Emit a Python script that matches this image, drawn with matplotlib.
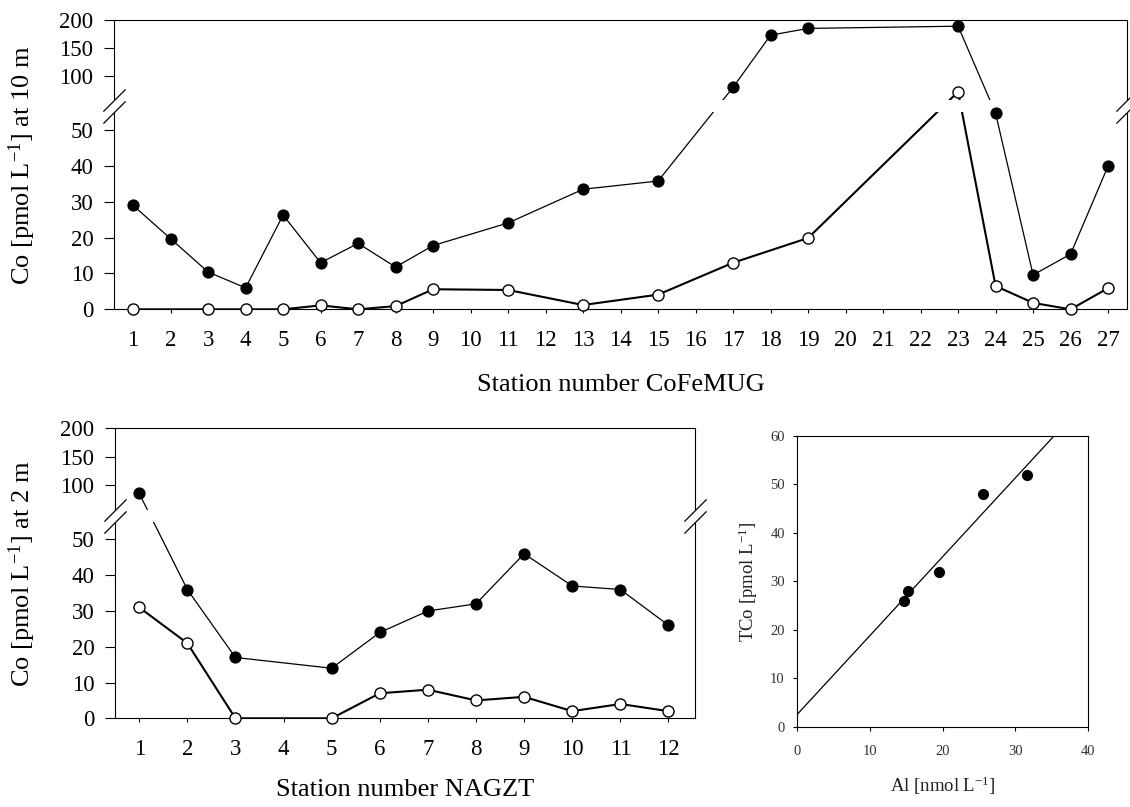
import numpy as np
import matplotlib
matplotlib.use("Agg")
import matplotlib.pyplot as plt

plt.rcParams['font.family'] = ['Liberation Serif', 'DejaVu Serif']
plt.rcParams['mathtext.fontset'] = 'custom'
plt.rcParams['mathtext.rm'] = 'Liberation Serif'
plt.rcParams['mathtext.it'] = 'Liberation Serif:italic'
plt.rcParams['mathtext.default'] = 'regular'

# ---------------- data ----------------
# Top panel: CoFeMUG stations, 10 m
cofemug_ticks = list(range(1, 28))
cofemug_black_st = [1, 2, 3, 4, 5, 6, 7, 8, 9, 11, 13, 15, 17, 18, 19, 23, 24, 25, 26, 27]
cofemug_black = [29, 19.7, 10.4, 6, 26.3, 13, 18.4, 11.8, 17.8, 24.1, 33.5, 35.8,
                 80, 173, 185, 189, 54.7, 9.6, 15.4, 40]
cofemug_open_st = [1, 3, 4, 5, 6, 7, 8, 9, 11, 13, 15, 17, 19, 23, 24, 25, 26, 27]
cofemug_open = [0, 0, 0, 0, 1.1, 0, 0.9, 5.6, 5.4, 1.2, 4.1, 13, 19.9, 72, 6.5, 1.8, 0, 5.9]

# Bottom-left panel: NAGZT stations, 2 m
nagzt_ticks = list(range(1, 13))
nagzt_st = [1, 2, 3, 5, 6, 7, 8, 9, 10, 11, 12]
nagzt_black = [85, 36, 17, 14, 24, 30, 32, 46, 37, 36, 26]
nagzt_open = [31, 21, 0, 0, 7, 8, 5, 6, 2, 4, 2]

# Bottom-right panel: TCo vs Al
al_vals = [14.7, 15.2, 19.5, 25.5, 31.6]
tco_vals = [26, 28, 32, 48, 52]

yticks_broken = [0, 10, 20, 30, 40, 50, 100, 150, 200]


def make_break(L, U, a, g, b):
    def fwd(v):
        v = np.asarray(v, dtype=float)
        return np.where(v <= L, a * v,
                        np.where(v < U, a * L + g * (v - L) / (U - L),
                                 a * L + g + b * (v - U)))

    def inv(s):
        s = np.asarray(s, dtype=float)
        s1 = a * L
        s2 = a * L + g
        return np.where(s <= s1, s / a,
                        np.where(s < s2, L + (s - s1) / g * (U - L),
                                 U + (s - s2) / b))
    return fwd, inv


def broken_panel(ax, L, U, a, g, b, st_b, vb, st_o, vo, ticks, xlim,
                 xlabel, ylabel, ylab_x, xlab_y):
    fwd, inv = make_break(L, U, a, g, b)
    ax.set_yscale('function', functions=(fwd, inv))
    ax.set_ylim(0, 200)
    ax.set_xlim(*xlim)
    ax.set_yticks(yticks_broken)
    ax.set_yticklabels([str(t) for t in yticks_broken])
    ax.set_xticks(ticks)
    ax.set_xticklabels([str(t) for t in ticks])
    ax.minorticks_off()
    ax.tick_params(axis='y', direction='out', length=7, width=0.8, pad=8,
                   labelsize=16.5)
    ax.tick_params(axis='x', direction='out', length=3, width=0.8, pad=12,
                   labelsize=16.5)
    for sp in ax.spines.values():
        sp.set_linewidth(0.8)
    # lines
    ax.plot(st_b, vb, '-', color='k', lw=0.9, zorder=2)
    ax.plot(st_o, vo, '-', color='k', lw=1.5, zorder=2)
    # gap band hiding lines and spines
    ax.axhspan(L, U, xmin=-0.015, xmax=1.015, facecolor='white',
               edgecolor='none', zorder=3, clip_on=False)
    # markers
    ax.plot(st_b, vb, 'o', ms=8, mfc='k', mec='k', mew=0.8, zorder=4,
            clip_on=False)
    ax.plot(st_o, vo, 'o', ms=8, mfc='white', mec='k', mew=1.0, zorder=4,
            clip_on=False)
    # break marks
    ax.plot([0, 0, 1, 1], [L, U, L, U], transform=ax.get_yaxis_transform(),
            marker=[(-1, -1), (1, 1)], ms=16, mew=0.9, color='k', ls='none',
            clip_on=False, zorder=5)
    ax.set_xlabel(xlabel, fontsize=19)
    ax.set_ylabel(ylabel, fontsize=19)
    ax.yaxis.set_label_coords(ylab_x, 0.5)
    ax.xaxis.set_label_coords(0.5, xlab_y)


fig = plt.figure(figsize=(11.3, 8.07), dpi=100)

ax1 = fig.add_axes([0.1012, 0.6167, 0.8960, 0.3585])
broken_panel(ax1, 55, 57, 3.58, 12, 0.56,
             cofemug_black_st, cofemug_black, cofemug_open_st, cofemug_open,
             cofemug_ticks, (0.5, 27.5),
             'Station number CoFeMUG', 'Co [pmol L$^{-1}$] at 10 m',
             -0.075, -0.225)

ax2 = fig.add_axes([0.1019, 0.1099, 0.5131, 0.3594])
broken_panel(ax2, 55, 56, 3.58, 11.7, 0.567,
             nagzt_st, nagzt_black, nagzt_st, nagzt_open,
             nagzt_ticks, (0.5, 12.55),
             'Station number NAGZT', 'Co [pmol L$^{-1}$] at 2 m',
             -0.133, -0.21)

# scatter panel
ax3 = fig.add_axes([0.7056, 0.0991, 0.2573, 0.3610])
ax3.plot(al_vals, tco_vals, 'o', ms=7, color='k', zorder=3)
slope, intercept = np.polyfit(al_vals, tco_vals, 1)
xl = np.array([0, 40])
ax3.plot(xl, intercept + slope * xl, '-', color='k', lw=0.9, zorder=2)
ax3.set_xlim(0, 40)
ax3.set_ylim(0, 60)
ax3.set_xticks([0, 10, 20, 30, 40])
ax3.set_yticks([0, 10, 20, 30, 40, 50, 60])
ax3.tick_params(axis='both', direction='out', length=3, width=0.8,
                labelsize=10.5, labelcolor='#333333')
ax3.tick_params(axis='x', pad=10)
ax3.tick_params(axis='y', pad=6)
for sp in ax3.spines.values():
    sp.set_linewidth(0.8)
ax3.set_xlabel('Al [nmol L$^{-1}$]', fontsize=13.5, color='#222222')
ax3.set_ylabel('TCo [pmol L$^{-1}$]', fontsize=13.5, color='#222222')
ax3.xaxis.set_label_coords(0.5, -0.165)
ax3.yaxis.set_label_coords(-0.13, 0.5)

fig.savefig('out.png', dpi=100)
